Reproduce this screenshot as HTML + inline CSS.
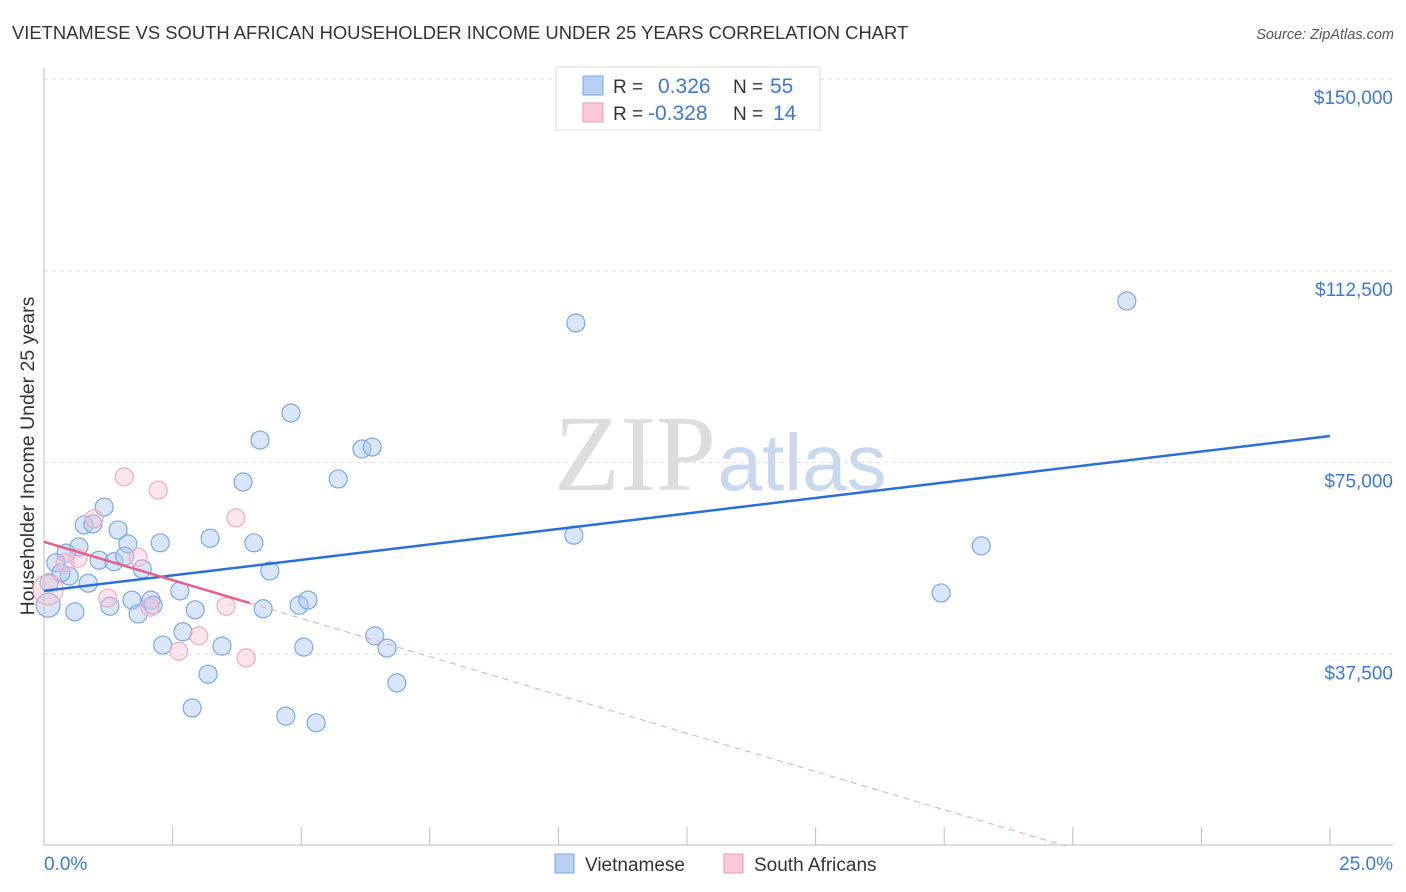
<!DOCTYPE html>
<html><head><meta charset="utf-8">
<style>
body{margin:0;background:#fff;font-family:"Liberation Sans",sans-serif;}
svg{display:block}
</style></head>
<body>
<svg id="chart" width="1406" height="892" xmlns="http://www.w3.org/2000/svg" font-family="Liberation Sans, sans-serif">
<text x="12" y="39" font-size="18.4" fill="#333">VIETNAMESE VS SOUTH AFRICAN HOUSEHOLDER INCOME UNDER 25 YEARS CORRELATION CHART</text>
<text x="1394" y="39" font-size="14.5" fill="#555" font-style="italic" text-anchor="end">Source: ZipAtlas.com</text>
<text transform="translate(34,456) rotate(-90)" font-size="19.5" fill="#333" text-anchor="middle">Householder Income Under 25 years</text>
<g>
<text x="635" y="490" font-size="108" font-family="Liberation Serif, serif" fill="#ddd" text-anchor="middle">ZIP</text>
<text x="802" y="490" font-size="80" fill="#c8d8ee" text-anchor="middle">atlas</text>
</g>
<g id="grid"></g>
<g id="axes"></g>
<g id="points"></g>
<g id="trends"></g>
<g>
<rect x="556" y="67" width="264" height="63" fill="#fff" stroke="#ddd"/>
<rect x="583" y="76" width="20" height="19" fill="#b8d1f3" stroke="#7aa6e6"/>
<rect x="583" y="103" width="20" height="19" fill="#f9c9d7" stroke="#ee9ab3"/>
<text x="613" y="93" font-size="19" fill="#333">R =</text>
<text x="658" y="93" font-size="21" fill="#3b78d8">0.326</text>
<text x="733" y="93" font-size="19" fill="#333">N =</text>
<text x="770" y="93" font-size="21" fill="#3b78d8">55</text>
<text x="613" y="120" font-size="19" fill="#333">R =</text>
<text x="648" y="120" font-size="21" fill="#3b78d8">-0.328</text>
<text x="733" y="120" font-size="19" fill="#333">N =</text>
<text x="773" y="120" font-size="21" fill="#3b78d8">14</text>
</g>
<g>
<rect x="555" y="854" width="19" height="19" fill="#b8d1f3" stroke="#7aa6e6"/>
<text x="585" y="871" font-size="19" fill="#333">Vietnamese</text>
<rect x="724" y="854" width="19" height="19" fill="#f9c9d7" stroke="#ee9ab3"/>
<text x="754" y="871" font-size="19" fill="#333">South Africans</text>
</g>
</svg>
<script>
const blueX=[4.80,4.20,6.18,6.38,5.72,3.87,1.17,0.78,0.95,1.44,2.26,3.23,4.08,0.68,1.63,0.43,1.07,1.36,1.57,0.23,0.49,0.33,0.86,1.91,0.08,0.60,1.28,1.71,1.83,2.08,2.12,2.64,2.94,4.39,4.26,4.96,5.13,2.70,2.31,3.46,5.05,6.43,6.67,3.19,6.86,2.88,4.70,5.29,10.34,21.05,10.30,18.22,17.44,0.10];
const blueY=[84700,79400,77650,78050,71800,71200,66300,62800,63000,61800,59300,60200,59300,58500,59100,57300,55900,55600,56700,55400,52800,53400,51400,54200,47100,45800,46900,48100,45400,48100,47100,49900,46200,53800,46400,47100,48100,41900,39300,39100,38900,41100,38700,33600,31900,27000,25400,24100,102300,106600,60800,58700,49500,51500];
const pinkX=[1.56,2.22,0.97,3.73,0.66,1.83,0.08,1.24,2.06,3.54,3.01,2.62,3.93,0.41];
const pinkY=[72200,69600,64000,64200,56300,56500,50100,48500,46700,46900,41100,38100,36800,55400];
const yTicks=[37500,75000,112500,150000];
const yTickLabels=["$37,500","$75,000","$112,500","$150,000"];
const xTicks=[0,2.5,5,7.5,10,12.5,15,17.5,20,22.5,25];
const blueTrend=[49900,80200];
const pinkTrend=[59500,-15400];
const pinkSolidEnd=4.0;

const NS="http://www.w3.org/2000/svg";
const X=p=>44+p*51.44;
const Y=v=>846-v/195.6;
function mk(tag,attrs,parent){const e=document.createElementNS(NS,tag);for(const k in attrs)e.setAttribute(k,attrs[k]);parent.appendChild(e);return e;}
const grid=document.getElementById('grid'),axes=document.getElementById('axes'),pts=document.getElementById('points'),tr=document.getElementById('trends');
yTicks.forEach((v,i)=>{
  const l=mk('line',{x1:44,x2:1393,y1:Y(v),y2:Y(v),stroke:'#ddd','stroke-dasharray':'4,4'},grid);
  
  
  const t=mk('text',{x:1393,y:Y(v)+25,'font-size':19,fill:'#3b78d8','text-anchor':'end'},grid);
  t.textContent=yTickLabels[i];
  
  
});
const la=mk('line',{x1:44,x2:44,y1:68,y2:845,stroke:'#bbb'},axes);


const ba=mk('line',{x1:44,x2:1393,y1:845,y2:845,stroke:'#bbb'},axes);


xTicks.forEach(p=>{
  const t=mk('line',{x1:X(p),x2:X(p),y1:827,y2:845,stroke:'#bbb'},axes);
  
  
});
const x0=mk('text',{x:44,y:870,'font-size':19,fill:'#3b78d8'},axes);x0.textContent='0.0%';


const x1=mk('text',{x:1393,y:870,'font-size':19,fill:'#3b78d8','text-anchor':'end'},axes);x1.textContent='25.0%';



blueX.forEach((p,i)=>{
  const r=(i===24)?12:9;
  const c=mk('circle',{cx:X(p),cy:Y(blueY[i]),r:r,fill:'rgba(170,200,242,0.45)',stroke:'#7aa8e6','stroke-width':1.2},pts);
  
  
});
pinkX.forEach((p,i)=>{
  const r=(i===6)?15:9;
  const c=mk('circle',{cx:X(p),cy:Y(pinkY[i]),r:r,fill:'rgba(248,190,208,0.4)',stroke:'#f2aac0','stroke-width':1.2},pts);
  
  
});
const bl=mk('line',{x1:X(0),y1:Y(blueTrend[0]),x2:X(25),y2:Y(blueTrend[1]),stroke:'#2a6fd6','stroke-width':2.5},tr);


const pv=x=>pinkTrend[0]+(pinkTrend[1]-pinkTrend[0])*x/25;
const ps=mk('line',{x1:X(0),y1:Y(pv(0)),x2:X(pinkSolidEnd),y2:Y(pv(pinkSolidEnd)),stroke:'#e4608a','stroke-width':2.5},tr);


const xz=25*pinkTrend[0]/(pinkTrend[0]-pinkTrend[1]);
const pd=mk('line',{x1:X(pinkSolidEnd),y1:Y(pv(pinkSolidEnd)),x2:X(xz),y2:Y(0),stroke:'#eea0b8','stroke-width':1,'stroke-dasharray':'6,5'},tr);


</script>
</body></html>
